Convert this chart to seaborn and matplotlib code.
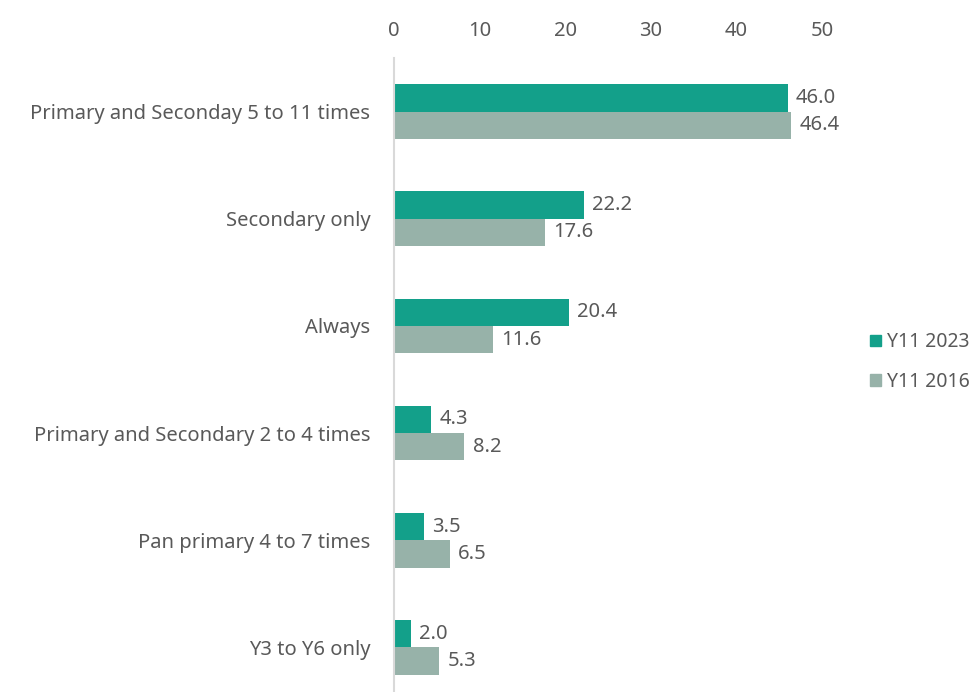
import matplotlib
matplotlib.use("Agg")
import matplotlib.pyplot as plt
import seaborn as sns
import pandas as pd
from matplotlib.patches import Patch

categories = ["Primary and Seconday 5 to 11 times", "Secondary only", "Always",
              "Primary and Secondary 2 to 4 times", "Pan primary 4 to 7 times", "Y3 to Y6 only"]
y2023 = [46.0, 22.2, 20.4, 4.3, 3.5, 2.0]
y2016 = [46.4, 17.6, 11.6, 8.2, 6.5, 5.3]
series = ["Y11 2023", "Y11 2016"]
xticks = [0, 10, 20, 30, 40, 50]

colors = {"Y11 2023": "#13A08A", "Y11 2016": "#97B2A9"}
text_color = "#595959"
fs = 14.5

df = pd.DataFrame({
    "category": categories * 2,
    "value": y2023 + y2016,
    "series": [series[0]] * len(categories) + [series[1]] * len(categories),
})

sns.set_theme(style="white")
plt.rcParams["font.family"] = ["Noto Sans", "DejaVu Sans"]

fig = plt.figure(figsize=(9.78, 6.92), dpi=100)
ax = fig.add_axes([394 / 978, -9 / 692, (822 - 394) / 978, (692 - 58 + 9) / 692])

sns.barplot(data=df, y="category", x="value", hue="series", palette=colors,
            orient="h", width=0.51, ax=ax, legend=False, saturation=1, linewidth=0)

for cont, vals in zip(ax.containers, [y2023, y2016]):
    ax.bar_label(cont, labels=[f"{v:.1f}" for v in vals], padding=6,
                 fontsize=fs, color=text_color)

ax.set_xlim(0, 50)
ax.set_xticks(xticks)
ax.xaxis.tick_top()
ax.tick_params(axis="x", length=0, labelsize=fs, labelcolor=text_color, pad=12)
ax.tick_params(axis="y", length=0, labelsize=fs, labelcolor=text_color, pad=17)
ax.set_xlabel("")
ax.set_ylabel("")
for s in ["top", "right", "bottom"]:
    ax.spines[s].set_visible(False)
ax.spines["left"].set_color("#D9D9D9")
ax.spines["left"].set_linewidth(1.5)

handles = [Patch(color=colors[s], label=s) for s in series]
fig.legend(handles=handles, loc="center left", bbox_to_anchor=(870 / 978, 1 - 362 / 692),
           frameon=False, fontsize=fs - 0.5, labelcolor=text_color, handlelength=0.55,
           handleheight=0.55, handletextpad=0.3, labelspacing=1.0, borderpad=0,
           borderaxespad=0)

fig.savefig("out.png", dpi=100)
